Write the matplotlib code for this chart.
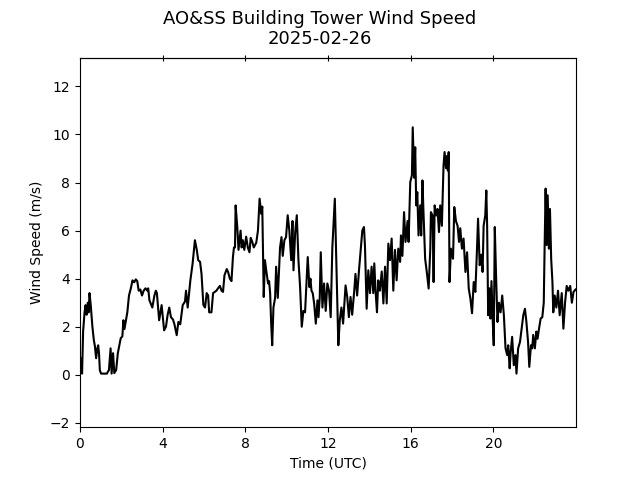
import numpy as np
import matplotlib
matplotlib.use("Agg")
import matplotlib.pyplot as plt

# Hours (UTC) and wind speed (m/s)
time_h = [
    0.00, 0.03, 0.06, 0.10, 0.15, 0.22, 0.27, 0.32, 0.38, 0.42, 0.46, 0.52, 0.60, 0.67, 0.72, 0.78,
    0.84, 0.88, 0.92, 0.96, 1.02, 1.15, 1.30, 1.40, 1.48, 1.53, 1.60, 1.66, 1.75, 1.83, 1.97, 2.05,
    2.10, 2.15, 2.29, 2.37, 2.46, 2.54, 2.62, 2.70, 2.77, 2.84, 2.92, 3.00, 3.08, 3.17, 3.26, 3.30,
    3.36, 3.50, 3.60, 3.67, 3.72, 3.83, 3.95, 4.07, 4.16, 4.24, 4.32, 4.40, 4.50, 4.57, 4.68, 4.76,
    4.85, 4.97, 5.08, 5.13, 5.21, 5.34, 5.45, 5.56, 5.65, 5.72, 5.81, 5.88, 5.97, 6.05, 6.13, 6.20,
    6.25, 6.36, 6.44, 6.52, 6.60, 6.68, 6.77, 6.85, 6.92, 6.99, 7.10, 7.17, 7.25, 7.33, 7.40, 7.45,
    7.50, 7.53, 7.61, 7.67, 7.77, 7.82, 7.88, 7.95, 8.04, 8.12, 8.20, 8.26, 8.33, 8.41, 8.53, 8.61,
    8.69, 8.77, 8.82, 8.89, 8.95, 9.01, 9.10, 9.15, 9.20, 9.25, 9.30, 9.36, 9.44, 9.49, 9.57, 9.68,
    9.75, 9.81, 9.89, 9.97, 10.05, 10.13, 10.18, 10.22, 10.28, 10.33, 10.41, 10.49, 10.57, 10.65, 10.73, 10.81,
    10.89, 10.97, 11.02, 11.10, 11.15, 11.20, 11.26, 11.33, 11.41, 11.49, 11.54, 11.60, 11.65, 11.73, 11.81, 11.89,
    11.97, 12.05, 12.13, 12.21, 12.33, 12.42, 12.50, 12.57, 12.65, 12.73, 12.85, 12.93, 13.01, 13.09, 13.17, 13.27,
    13.33, 13.41, 13.50, 13.58, 13.66, 13.74, 13.79, 13.87, 13.95, 14.03, 14.11, 14.19, 14.24, 14.30, 14.37, 14.43,
    14.51, 14.60, 14.68, 14.76, 14.84, 14.92, 15.00, 15.08, 15.16, 15.24, 15.32, 15.40, 15.49, 15.53, 15.60, 15.68,
    15.75, 15.85, 15.90, 15.98, 16.06, 16.10, 16.17, 16.22, 16.27, 16.32, 16.38, 16.46, 16.51, 16.57, 16.62, 16.70,
    16.78, 16.87, 16.95, 16.98, 17.06, 17.11, 17.16, 17.24, 17.30, 17.37, 17.43, 17.51, 17.59, 17.64, 17.71, 17.75,
    17.80, 17.84, 17.88, 17.95, 18.05, 18.11, 18.19, 18.27, 18.34, 18.40, 18.48, 18.56, 18.65, 18.73, 18.81, 18.89,
    18.97, 19.05, 19.13, 19.21, 19.26, 19.34, 19.42, 19.48, 19.53, 19.61, 19.66, 19.70, 19.75, 19.81, 19.86, 19.91,
    19.98, 20.02, 20.07, 20.13, 20.20, 20.27, 20.35, 20.43, 20.51, 20.59, 20.67, 20.72, 20.79, 20.84, 20.91, 20.99,
    21.07, 21.12, 21.20, 21.29, 21.37, 21.45, 21.53, 21.60, 21.68, 21.74, 21.82, 21.88, 21.93, 22.01, 22.08, 22.14,
    22.21, 22.29, 22.37, 22.44, 22.48, 22.53, 22.58, 22.63, 22.69, 22.74, 22.80, 22.86, 22.90, 22.97, 23.05, 23.13,
    23.21, 23.31, 23.39, 23.47, 23.55, 23.63, 23.72, 23.80, 23.88, 23.98,
]
wind_speed = [
    0.6, 0.1, 0.7, 0.05, 1.8, 2.6, 2.9, 2.5, 3.0, 2.6, 3.4, 2.9, 2.0, 1.44, 1.2, 0.69,
    1.1, 1.23, 0.9, 0.19, 0.05, 0.05, 0.05, 0.2, 1.1, 0.05, 0.9, 0.07, 0.2, 0.9, 1.52, 1.6,
    2.27, 1.9, 2.6, 3.3, 3.6, 3.93, 3.85, 3.97, 3.9, 3.5, 3.55, 3.3, 3.5, 3.6, 3.5, 3.6,
    3.1, 2.8, 3.3, 3.5, 3.4, 2.27, 2.9, 1.85, 2.0, 2.5, 2.8, 2.4, 2.3, 2.1, 1.65, 2.2,
    2.1, 2.9, 3.05, 3.5, 2.8, 3.93, 4.64, 5.6, 5.2, 4.77, 4.7, 4.2, 2.9, 2.8, 3.4, 3.3,
    2.6, 2.6, 3.4, 3.45, 3.5, 3.6, 3.7, 3.5, 3.45, 4.14, 4.4, 4.27, 4.0, 3.9, 4.9, 5.3,
    5.3, 7.05, 6.15, 5.2, 6.0, 5.3, 5.6, 5.2, 5.75, 5.3, 5.1, 5.7, 5.55, 5.3, 5.5, 6.0,
    7.33, 6.7, 7.0, 3.24, 4.77, 4.35, 3.8, 3.9, 3.4, 2.13, 1.23, 2.8, 3.2, 4.5, 3.2, 5.3,
    5.73, 4.95, 5.6, 5.73, 6.64, 6.0, 5.33, 4.77, 6.4, 4.35, 5.9, 6.64, 4.77, 3.65, 2.0, 2.66,
    2.6, 4.0, 4.9, 3.65, 4.0, 3.5, 3.4, 2.97, 2.13, 3.1, 2.4, 3.2, 5.1, 2.8, 3.8, 2.66,
    3.8, 3.5, 2.4, 5.3, 7.33, 4.0, 1.23, 2.27, 2.8, 2.13, 3.72, 3.24, 2.4, 3.24, 2.5, 3.5,
    4.2, 3.3, 4.35, 5.18, 6.0, 6.15, 5.33, 2.75, 4.35, 3.4, 4.5, 3.4, 4.64, 3.5, 2.6, 3.93,
    3.5, 4.3, 2.97, 4.5, 2.97, 5.46, 4.77, 5.67, 3.5, 5.2, 3.93, 5.25, 4.7, 5.8, 4.95, 6.77,
    5.53, 6.4, 5.53, 8.02, 8.3, 10.3, 8.2, 9.47, 7.05, 7.6, 5.8, 7.05, 5.8, 8.09, 6.77, 4.83,
    4.28, 3.59, 5.25, 6.77, 6.63, 3.86, 7.05, 6.63, 6.9, 5.94, 7.05, 6.2, 8.7, 9.27, 8.6, 9.1,
    8.5, 9.27, 3.86, 5.25, 4.83, 6.98, 6.4, 6.2, 5.53, 6.1, 5.25, 5.67, 4.28, 5.1, 3.59, 3.17,
    2.56, 3.86, 3.45, 5.25, 6.5, 4.56, 5.0, 4.28, 6.2, 6.64, 7.67, 6.2, 2.48, 3.6, 2.34, 3.9,
    2.06, 1.23, 6.15, 4.2, 2.2, 3.0, 2.6, 3.3, 2.48, 1.1, 0.82, 1.23, 0.27, 0.96, 1.58, 0.4,
    0.82, 0.05, 1.1, 1.37, 1.92, 2.48, 2.75, 2.2, 1.37, 0.33, 1.23, 1.1, 1.66, 1.1, 1.8, 1.5,
    1.92, 2.34, 2.4, 3.0, 5.25, 7.75, 5.4, 7.47, 5.25, 6.9, 4.8, 3.86, 2.6, 3.3, 2.8, 3.5,
    2.48, 3.4, 1.92, 3.0, 3.7, 3.5, 3.7, 3.0, 3.45, 3.55,
]
x_ticks = [0, 4, 8, 12, 16, 20]
y_ticks = [-2, 0, 2, 4, 6, 8, 10, 12]

fig, ax = plt.subplots(figsize=(6.4, 4.8), dpi=100)
ax.plot(time_h, wind_speed, color='black', linewidth=1.5)

ax.set_xlim(0, 24)
ax.set_ylim(-2.18, 13.2)
ax.set_xticks(x_ticks)
ax.set_yticks(y_ticks)
ax.set_xlabel('Time (UTC)')
ax.set_ylabel('Wind Speed (m/s)')
fig.suptitle('AO&SS Building Tower Wind Speed\n2025-02-26', fontsize=13)

# small ticks crossing the top spine
top = ax.secondary_xaxis('top')
top.set_xticks(x_ticks[1:])
top.tick_params(direction='inout', length=5, labeltop=False)

fig.savefig('out.png', dpi=100)
